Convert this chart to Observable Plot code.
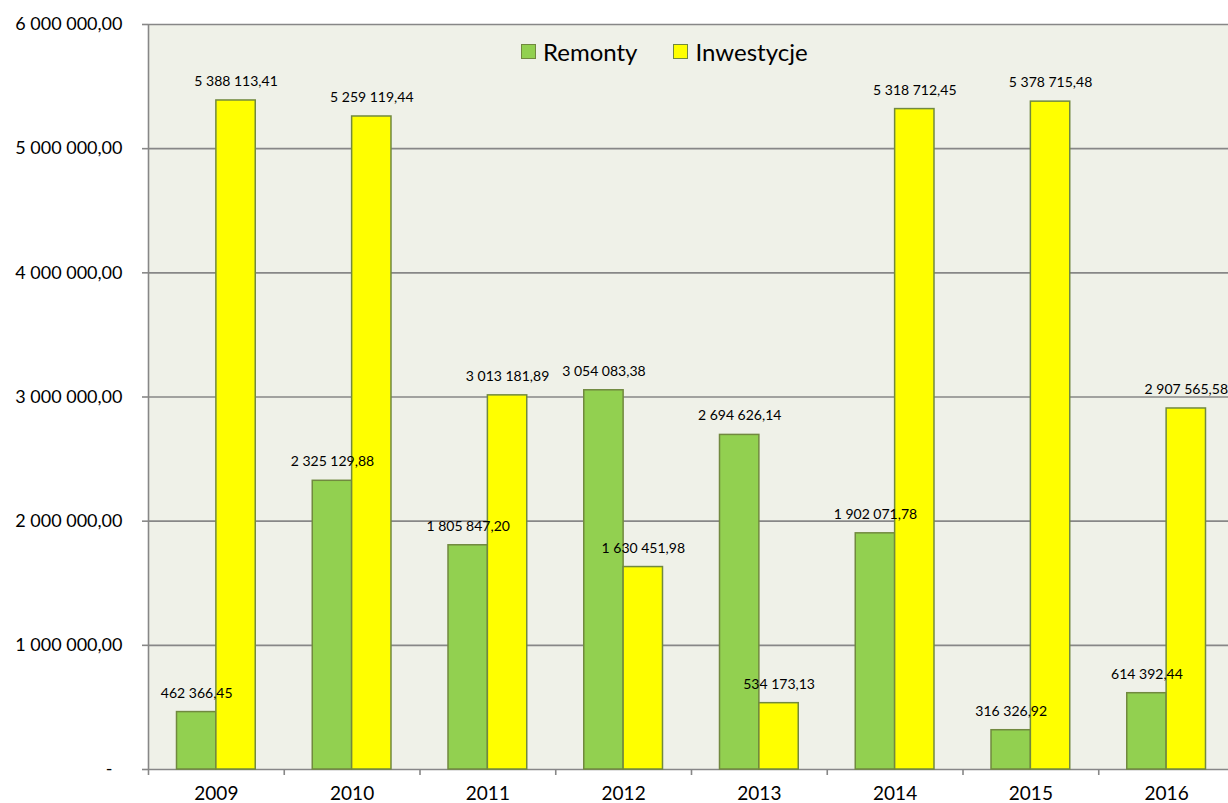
<!DOCTYPE html>
<html>
<head>
<meta charset="utf-8">
<script src="https://cdn.jsdelivr.net/npm/d3@7"></script>
<script src="https://cdn.jsdelivr.net/npm/@observablehq/plot@0.6"></script>
<style>
  html, body { margin: 0; padding: 0; background: #fff; overflow: hidden; }
  #wrap { position: relative; width: 1228px; height: 803px; overflow: hidden; }
  #chart svg { max-width: none !important; width: 1234px !important; height: 803px !important; display: block; }
  #legend { position: absolute; left: 521px; top: 37px; font-family: Lato, sans-serif; font-size: 24px; color: #000; display: flex; align-items: center; }
  #legend .sw { display: inline-block; width: 13px; height: 13px; border: 1.5px solid #71893F; margin-right: 7px; }
  #legend .item { display: flex; align-items: center; margin-right: 36px; }
</style>
</head>
<body>
<div id="wrap">
  <div id="chart"></div>
  <div id="legend"></div>
</div>
<script>
const years = ["2009", "2010", "2011", "2012", "2013", "2014", "2015", "2016"];
const remonty = [462366.45, 2325129.88, 1805847.20, 3054083.38, 2694626.14, 1902071.78, 316326.92, 614392.44];
const inwestycje = [5388113.41, 5259119.44, 3013181.89, 1630451.98, 534173.13, 5318712.45, 5378715.48, 2907565.58];
const seriesNames = ["Remonty", "Inwestycje"];
const seriesColors = ["#92D050", "#FFFF00"];
const yTicks = [0, 1000000, 2000000, 3000000, 4000000, 5000000, 6000000];

const locale = d3.formatLocale({decimal: ",", thousands: "\u00a0", grouping: [3], currency: ["", ""]});
const fmt = locale.format(",.2f");

const data = [];
years.forEach((y, i) => {
  data.push({i, year: y, series: "Remonty", value: remonty[i], x1: i + 0.21, x2: i + 0.5});
  data.push({i, year: y, series: "Inwestycje", value: inwestycje[i], x1: i + 0.5, x2: i + 0.79});
});

const font = "Lato, sans-serif";
const axisColor = "#878787";

const chart = Plot.plot({
  width: 1234,
  height: 803,
  marginLeft: 148,
  marginRight: 0,
  marginTop: 24,
  marginBottom: 34,
  style: {fontFamily: font, background: "transparent", overflow: "visible"},
  x: {type: "linear", domain: [0, years.length], axis: null},
  y: {domain: [0, 6000000], axis: null},
  color: {domain: seriesNames, range: seriesColors},
  marks: [
    Plot.frame({fill: "#EFF1E8", stroke: null}),
    Plot.ruleY(yTicks, {stroke: axisColor, strokeWidth: 1.6}),
    Plot.ruleX([0], {y1: 0, y2: 6000000, stroke: axisColor, strokeWidth: 1.6}),
    Plot.axisY(yTicks.filter(d => d > 0), {
      tickSize: 6, tickPadding: 20, tickFormat: d => fmt(d),
      fontSize: 18, stroke: axisColor, strokeWidth: 1.6, color: "#000", label: null
    }),
    Plot.axisY([0], {tickSize: 6, tickFormat: () => "", stroke: axisColor, strokeWidth: 1.6, label: null}),
    Plot.text(["-"], {x: () => 0, y: () => 0, dx: -36, textAnchor: "end", fontSize: 18, fill: "#000"}),
    Plot.axisX(d3.range(years.length + 1), {
      tickSize: 6, tickFormat: () => "", stroke: axisColor, strokeWidth: 1.6, label: null
    }),
    Plot.axisX(years.map((y, i) => i + 0.5), {
      tickSize: 0, tickPadding: 17, tickFormat: d => years[Math.floor(d)],
      fontSize: 19, color: "#000", label: null
    }),
    Plot.rectY(data, {x1: "x1", x2: "x2", y: "value", fill: "series", stroke: "#71893F", strokeWidth: 1.5}),
    Plot.text(data, {
      x: d => (d.x1 + d.x2) / 2, y: "value", text: d => fmt(d.value),
      dy: -19, fontSize: 14, fill: "#000"
    })
  ]
});
document.getElementById("chart").appendChild(chart);

const legend = document.getElementById("legend");
seriesNames.forEach((s, k) => {
  const item = document.createElement("div");
  item.className = "item";
  const sw = document.createElement("span");
  sw.className = "sw";
  sw.style.background = seriesColors[k];
  const t = document.createElement("span");
  t.textContent = s;
  item.appendChild(sw);
  item.appendChild(t);
  legend.appendChild(item);
});
</script>
</body>
</html>
